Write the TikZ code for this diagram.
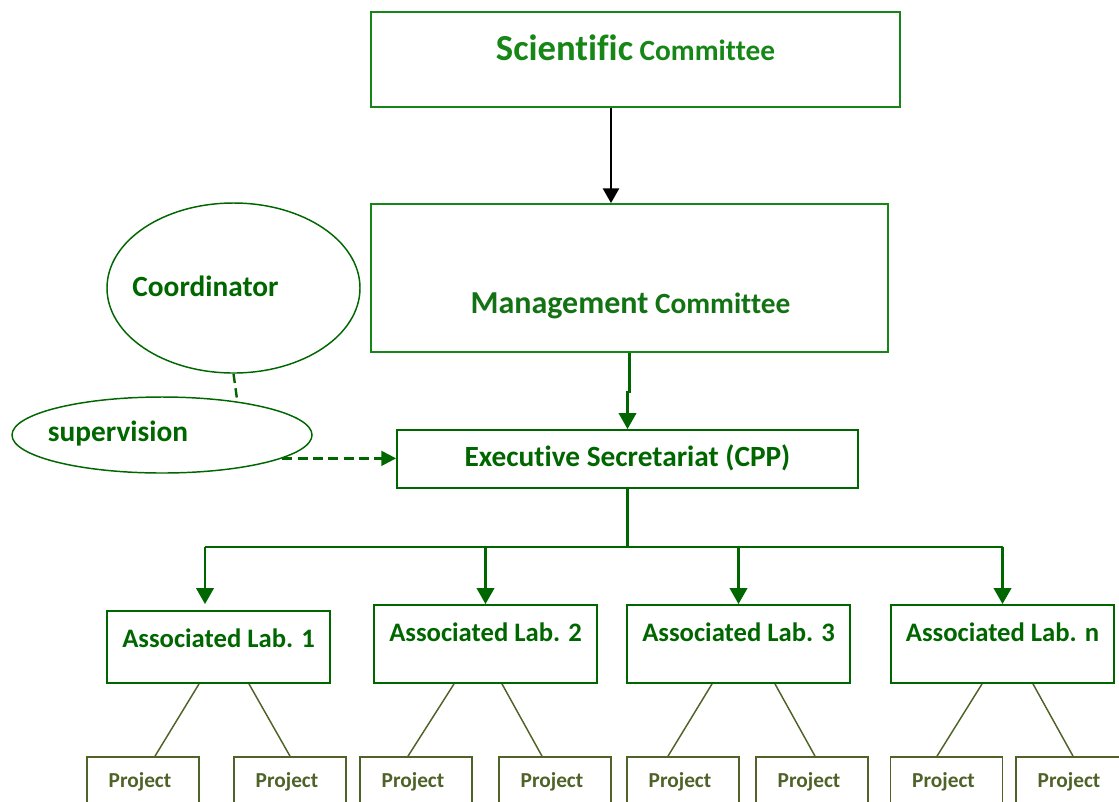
\documentclass[tikz,border=0pt]{standalone}
\usepackage{fontspec}
\setmainfont{Carlito}[Ligatures={NoCommon}]
\usetikzlibrary{arrows.meta,calc,shapes.geometric}
\definecolor{topgreen}{RGB}{22,134,22}
\definecolor{deepgreen}{RGB}{0,102,0}
\definecolor{olive}{RGB}{79,98,40}
\begin{document}
\begin{tikzpicture}[x=0.75pt,y=-0.75pt,
  box/.style={draw, rectangle, inner sep=0pt},
  topbox/.style={box, draw=topgreen, line width=1.4pt},
  greenbox/.style={box, draw=deepgreen, line width=1.4pt},
  projbox/.style={box, draw=olive, line width=1.3pt, minimum width=84pt, minimum height=45pt},
  oval/.style={draw=deepgreen, ellipse, line width=1.1pt, inner sep=0pt},
  label22/.style={inner sep=0pt, font=\fontsize{22}{26}\selectfont\bfseries},
  labtext/.style={inner sep=0pt, text=deepgreen, font=\fontsize{20}{24}\selectfont\bfseries},
  projtext/.style={inner sep=0pt, text=olive, font=\fontsize{16}{19}\selectfont\bfseries},
  link/.style={draw=deepgreen, line width=2.1pt},
  linkarrow/.style={link, -{Triangle[length=12pt,width=13pt]}},
  twig/.style={draw=olive, line width=1.1pt}
]
\useasboundingbox (0,0) rectangle (1119,801);
\clip (0,0) rectangle (1119,801);

% committees
\node[topbox, minimum width=396.75pt, minimum height=71.25pt] (sci) at (635.5,59.5) {};
\node[label22, text=topgreen] (sciT) at (635.5,48) {{\fontsize{27.5}{33}\selectfont Scientific} Committee};
\node[topbox, minimum width=387.75pt, minimum height=111pt] (mgmt) at (629.5,278) {};
\node[label22, text=topgreen!85!black] (mgmtT) at (630.5,306) {{\fontsize{24}{29}\selectfont Management} Committee};

% coordination
\node[oval, minimum width=189.75pt, minimum height=127.5pt] (coord) at (233.5,288) {};
\node[label22, text=deepgreen] (coordT) at (205.5,286) {Coordinator};
\node[oval, minimum width=225pt, minimum height=57pt] (sup) at (162,435) {};
\node[label22, text=deepgreen] (supT) at (118,434) {supervision};

% secretariat
\node[greenbox, minimum width=345.75pt, minimum height=43.5pt] (exec) at (627.5,459) {};
\node[label22, text=deepgreen] (execT) at (627.5,458) {Executive Secretariat (CPP)};

% laboratories
\node[greenbox, minimum width=167.25pt, minimum height=54pt] (lab1) at (218.5,647) {};
\node[greenbox, minimum width=167.25pt, minimum height=58.5pt] (lab2) at (485.5,644) {};
\node[greenbox, minimum width=167.25pt, minimum height=58.5pt] (lab3) at (738.5,644) {};
\node[greenbox, minimum width=167.25pt, minimum height=58.5pt] (labn) at (1002.5,644) {};
\node[labtext] (lab1T) at (218.5,638) {Associated Lab. 1};
\node[labtext] (lab2T) at (485.5,632) {Associated Lab. 2};
\node[labtext] (lab3T) at (738.5,632) {Associated Lab. 3};
\node[labtext] (labnT) at (1002.5,632) {Associated Lab. n};

% projects
\foreach \n/\x in {p1/143,p2/290,p3/416,p4/555,p5/683,p6/812,p7/946.5,p8/1072}{
  \node[projbox] (\n) at (\x,787) {};
  \node[projtext] (\n T) at (\x-3,782) {Project};
}

% connectors
\coordinate (drop) at (611,0);
\draw[line width=1.9pt, -{Triangle[length=11pt,width=12pt]}] (drop |- sci.south) -- (drop |- mgmt.north);
\draw[linkarrow] (mgmt.south) -- ++(0,39) -| (exec.north);
\draw[draw=deepgreen, line width=1.8pt, dash pattern=on 7pt off 4pt] (coord.south) -- (sup.24.8);
\draw[draw=deepgreen, line width=1.9pt, dash pattern=on 7.5pt off 4pt, -{Triangle[length=11pt,width=11pt]}] (sup.-11.7) -- (sup.-11.7 -| exec.west);

\draw[link] (exec.south) -- ++(0,58) coordinate (bus);
\coordinate (a1) at ($(lab1.north)+(-13.5,-6)$);
\draw[link] (a1 |- bus) -- (labn.north |- bus);
\draw[linkarrow] (a1 |- bus) -- (a1);
\draw[linkarrow] (lab2.north |- bus) -- (lab2.north);
\draw[linkarrow] (lab3.north |- bus) -- (lab3.north);
\draw[linkarrow] (labn.north |- bus) -- (labn.north);

\draw[twig] ($(lab1.south)+(-19.5,0)$) -- ($(p1.north)+(12,0)$);
\draw[twig] ($(lab1.south)+(30.5,0)$) -- ($(p2.north)+(0,0)$);
\draw[twig] ($(lab2.south)+(-31.5,0)$) -- ($(p3.north)+(-8,0)$);
\draw[twig] ($(lab2.south)+(16.5,0)$) -- ($(p4.north)+(-13,0)$);
\draw[twig] ($(lab3.south)+(-26.5,0)$) -- ($(p5.north)+(-15,0)$);
\draw[twig] ($(lab3.south)+(36.5,0)$) -- ($(p6.north)+(3,0)$);
\draw[twig] ($(labn.south)+(-20.5,0)$) -- ($(p7.north)+(-9.5,0)$);
\draw[twig] ($(labn.south)+(30.5,0)$) -- ($(p8.north)+(1,0)$);
\end{tikzpicture}
\end{document}
